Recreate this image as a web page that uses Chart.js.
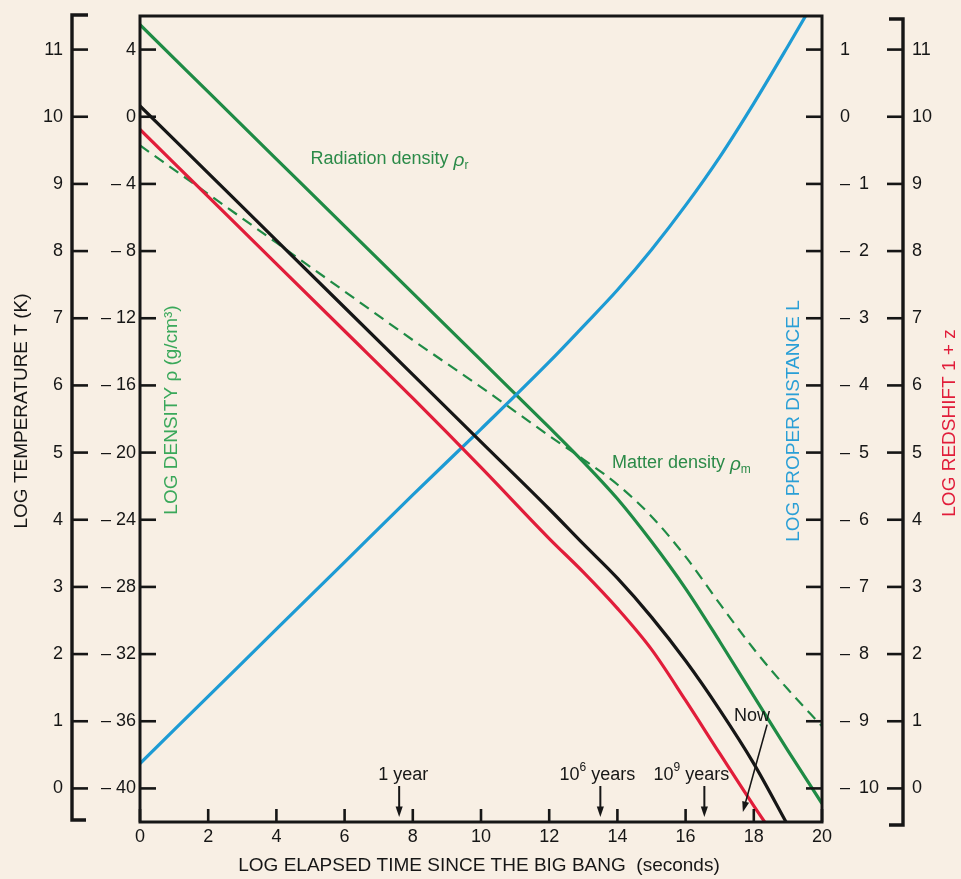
<!DOCTYPE html>
<html>
<head>
<meta charset="utf-8">
<script src="https://cdn.jsdelivr.net/npm/chart.js@4.4.1/dist/chart.umd.min.js"></script>
<style>
	body { margin: 0; background: #f8efe4; }
	#wrap { width: 961px; height: 879px; }
</style>
</head>
<body>
<div id="wrap"><canvas id="chart"></canvas></div>
<script>
// log10 of elapsed time since the big bang (seconds)
const logTime = [0, 2, 4, 6, 8, 10, 12, 13, 14, 15, 16, 17, 18, 19, 20];

// series, one value per logTime entry
const logTemperature = [10.16, 9.16, 8.16, 7.16, 6.16, 5.16, 4.16, 3.64, 3.13, 2.55, 1.9, 1.17, 0.37, -0.55, null];
const logRedshift = [9.81, 8.81, 7.81, 6.81, 5.81, 4.78, 3.72, 3.22, 2.68, 2.07, 1.31, 0.52, -0.26, -1.0, null];
const logDistance = [-9.63, -8.63, -7.63, -6.63, -5.63, -4.65, -3.65, -3.12, -2.58, -1.98, -1.32, -0.6, 0.2, 1.05, 1.92];
const logRadiationDensity = [5.48, 1.48, -2.52, -6.52, -10.5, -14.5, -18.5, -20.55, -22.75, -25.3, -28.1, -31.25, -34.5, -37.75, -40.9];
const logMatterDensity = [-1.71, -4.6, -7.5, -10.4, -13.3, -16.1, -19.0, -20.4, -21.9, -23.8, -26.2, -29.0, -31.7, -34.1, -36.3];

// tick labels of the five axes
const timeTicks = [0, 2, 4, 6, 8, 10, 12, 14, 16, 18, 20];
const temperatureTicks = [0, 1, 2, 3, 4, 5, 6, 7, 8, 9, 10, 11];
const densityTicks = [4, 0, -4, -8, -12, -16, -20, -24, -28, -32, -36, -40];
const distanceTicks = [1, 0, -1, -2, -3, -4, -5, -6, -7, -8, -9, -10];
const redshiftTicks = [0, 1, 2, 3, 4, 5, 6, 7, 8, 9, 10, 11];

// marked epochs along the time axis
const eventNames = [["1 year", "", ""], ["10", "6", " years"], ["10", "9", " years"]];
const eventLogTimes = [7.6, 13.5, 16.55];

const ink = "#161616";
const green = "#1f8b45";
const blue = "#1d9bd4";
const red = "#e11d3a";
const fontFamily = "'Liberation Sans', Arial, Helvetica, sans-serif";

function points(values) {
	return logTime
		.map((t, i) => ({ x: t, y: values[i] }))
		.filter(p => p.y !== null);
}

function minusLabel(value) {
	return value < 0 ? "\u2013 " + Math.abs(value) : String(value);
}

function wideMinusLabel(value) {
	return value < 0 ? "\u2013\u2002" + Math.abs(value) : String(value);
}

function setTicks(list) {
	return axis => {
		axis.ticks = list.map(v => ({ value: v }));
	};
}

function setWidth(w) {
	return axis => {
		axis.width = w;
		axis.paddingTop = 0;
		axis.paddingBottom = 0;
	};
}

function drawLine(ctx, x1, y1, x2, y2) {
	ctx.beginPath();
	ctx.moveTo(x1, y1);
	ctx.lineTo(x2, y2);
	ctx.stroke();
}

function drawArrow(ctx, x1, y1, x2, y2) {
	const angle = Math.atan2(y2 - y1, x2 - x1);
	const head = 11;
	const spread = 0.33;
	drawLine(ctx, x1, y1, x2 - Math.cos(angle) * 6, y2 - Math.sin(angle) * 6);
	ctx.beginPath();
	ctx.moveTo(x2, y2);
	ctx.lineTo(x2 - head * Math.cos(angle - spread), y2 - head * Math.sin(angle - spread));
	ctx.lineTo(x2 - head * Math.cos(angle + spread), y2 - head * Math.sin(angle + spread));
	ctx.closePath();
	ctx.fill();
}

function drawRotated(ctx, text, x, y, color) {
	ctx.save();
	ctx.translate(x, y);
	ctx.rotate(-Math.PI / 2);
	ctx.fillStyle = color;
	ctx.textAlign = "center";
	ctx.textBaseline = "middle";
	ctx.fillText(text, 0, 0);
	ctx.restore();
}

function drawRhoLabel(ctx, text, sub, x, y, color) {
	ctx.fillStyle = color;
	ctx.textAlign = "left";
	ctx.textBaseline = "middle";
	ctx.font = "18px " + fontFamily;
	ctx.fillText(text, x, y);
	let w = ctx.measureText(text).width;
	ctx.font = "italic 19px " + fontFamily;
	ctx.fillText("\u03c1", x + w, y + 2);
	w += ctx.measureText("\u03c1").width;
	ctx.font = "12px " + fontFamily;
	ctx.fillText(sub, x + w, y + 7);
}

const decorations = {
	id: "decorations",
	afterDraw(chart) {
		const ctx = chart.ctx;
		const area = chart.chartArea;
		const sx = chart.scales.x;
		const sd = chart.scales.yDensity;
		const st = chart.scales.yTemp;
		const sl = chart.scales.yDistance;
		const sr = chart.scales.yRedshift;
		ctx.save();
		ctx.strokeStyle = ink;
		ctx.fillStyle = ink;

		// plot frame
		ctx.lineWidth = 3;
		ctx.strokeRect(area.left, area.top, area.right - area.left, area.bottom - area.top);

		// inward tick marks
		ctx.lineWidth = 2.6;
		sx.ticks.forEach(t => {
			const px = sx.getPixelForValue(t.value);
			drawLine(ctx, px, area.bottom, px, area.bottom - 13);
		});
		sd.ticks.forEach(t => {
			const py = sd.getPixelForValue(t.value);
			drawLine(ctx, area.left, py, area.left + 16, py);
		});
		sl.ticks.forEach(t => {
			const py = sl.getPixelForValue(t.value);
			drawLine(ctx, area.right - 16, py, area.right, py);
		});

		// outer temperature axis with bracket ends
		const tx = st.right - 3;
		ctx.lineWidth = 3.4;
		ctx.beginPath();
		ctx.moveTo(tx + 16, area.top - 1);
		ctx.lineTo(tx, area.top - 1);
		ctx.lineTo(tx, area.bottom - 2);
		ctx.lineTo(tx + 14, area.bottom - 2);
		ctx.stroke();
		ctx.lineWidth = 2.6;
		st.ticks.forEach(t => {
			const py = st.getPixelForValue(t.value);
			drawLine(ctx, tx, py, tx + 16, py);
		});

		// outer redshift axis with bracket ends
		const rx = sr.left + 3;
		ctx.lineWidth = 3.4;
		ctx.beginPath();
		ctx.moveTo(rx - 14, area.top + 3);
		ctx.lineTo(rx, area.top + 3);
		ctx.lineTo(rx, area.bottom + 3);
		ctx.lineTo(rx - 14, area.bottom + 3);
		ctx.stroke();
		ctx.lineWidth = 2.6;
		sr.ticks.forEach(t => {
			const py = sr.getPixelForValue(t.value);
			drawLine(ctx, rx - 16, py, rx, py);
		});

		// axis titles
		ctx.font = "19px " + fontFamily;
		const midY = (area.top + area.bottom) / 2;
		drawRotated(ctx, "LOG TEMPERATURE T (K)", st.left + 22, midY - 8, ink);
		drawRotated(ctx, "LOG DENSITY \u03c1 (g/cm\u00b3)", area.left + 32, midY - 9, "#3aa85a");
		drawRotated(ctx, "LOG PROPER DISTANCE L", area.right - 28, midY + 2, "#2a9fd6");
		drawRotated(ctx, "LOG REDSHIFT 1 + z", sr.right - 11, midY + 4, red);
		ctx.fillStyle = ink;
		ctx.textAlign = "center";
		ctx.textBaseline = "middle";
		ctx.fillText("LOG ELAPSED TIME SINCE THE BIG BANG  (seconds)", (area.left + area.right) / 2 - 2, area.bottom + 44);

		// curve labels
		drawRhoLabel(ctx, "Radiation density ", "r", sx.getPixelForValue(5.0), sd.getPixelForValue(-2.5), "#2b8a48");
		drawRhoLabel(ctx, "Matter density ", "m", sx.getPixelForValue(13.84), sd.getPixelForValue(-20.6), "#2b8a48");

		// epoch arrows along the time axis
		ctx.fillStyle = ink;
		ctx.strokeStyle = ink;
		ctx.lineWidth = 2;
		const labelShift = [4, -3, -13];
		eventLogTimes.forEach((t, i) => {
			const px = sx.getPixelForValue(t);
			drawArrow(ctx, px, area.bottom - 36, px, area.bottom - 5);
			const parts = eventNames[i];
			ctx.font = "18px " + fontFamily;
			const w1 = ctx.measureText(parts[0]).width;
			const w3 = ctx.measureText(parts[2]).width;
			ctx.font = "12px " + fontFamily;
			const w2 = ctx.measureText(parts[1]).width;
			let x = px + labelShift[i] - (w1 + w2 + w3) / 2;
			const y = area.bottom - 47;
			ctx.textAlign = "left";
			ctx.textBaseline = "middle";
			ctx.font = "18px " + fontFamily;
			ctx.fillText(parts[0], x, y);
			x += w1;
			ctx.font = "12px " + fontFamily;
			ctx.fillText(parts[1], x, y - 7);
			x += w2;
			ctx.font = "18px " + fontFamily;
			ctx.fillText(parts[2], x, y);
		});

		// "Now"
		ctx.font = "18px " + fontFamily;
		ctx.textAlign = "center";
		ctx.fillText("Now", sx.getPixelForValue(17.95), sd.getPixelForValue(-35.7));
		ctx.lineWidth = 1.6;
		drawArrow(ctx, sx.getPixelForValue(18.39), sd.getPixelForValue(-36.2),
			sx.getPixelForValue(17.68), sd.getPixelForValue(-41.4));
		ctx.restore();
	}
};

function drawChart() {
	Chart.defaults.font.family = fontFamily;
	Chart.defaults.font.size = 18;
	Chart.defaults.color = ink;
	const tickFont = { size: 18 };
	const datasets = [
		{
			label: "Temperature",
			data: points(logTemperature),
			yAxisID: "yTemp",
			borderColor: ink,
			borderWidth: 3.2
		},
		{
			label: "Redshift",
			data: points(logRedshift),
			yAxisID: "yRedshift",
			borderColor: red,
			borderWidth: 3.2
		},
		{
			label: "Proper distance",
			data: points(logDistance),
			yAxisID: "yDistance",
			borderColor: blue,
			borderWidth: 3.2
		},
		{
			label: "Radiation density",
			data: points(logRadiationDensity),
			yAxisID: "yDensity",
			borderColor: green,
			borderWidth: 3.2
		},
		{
			label: "Matter density",
			data: points(logMatterDensity),
			yAxisID: "yDensity",
			borderColor: green,
			borderWidth: 2.2,
			borderDash: [11, 7]
		}
	];
	datasets.forEach(d => {
		d.pointRadius = 0;
		d.fill = false;
		d.cubicInterpolationMode = "monotone";
		d.clip = 0;
	});
	const hidden = { display: false, drawTicks: false };
	const options = {
		type: "line",
		data: {
			datasets: datasets
		},
		options: {
			responsive: true,
			maintainAspectRatio: false,
			animation: false,
			layout: {
				padding: { top: 16, left: 0, right: 0, bottom: 0 }
			},
			plugins: {
				legend: { display: false },
				tooltip: { enabled: false }
			},
			scales: {
				x: {
					type: "linear",
					min: 0,
					max: 20,
					afterBuildTicks: setTicks(timeTicks),
					afterFit: axis => { axis.height = 57; },
					grid: hidden,
					border: { display: false },
					ticks: { font: tickFont, padding: 4, autoSkip: false, maxRotation: 0 }
				},
				yDensity: {
					type: "linear",
					position: "left",
					weight: 0,
					min: -42,
					max: 6,
					afterBuildTicks: setTicks(densityTicks),
					afterFit: setWidth(65),
					grid: hidden,
					border: { display: false },
					ticks: { font: tickFont, padding: 4, autoSkip: false, callback: minusLabel }
				},
				yTemp: {
					type: "linear",
					position: "left",
					weight: 1,
					min: -0.5,
					max: 11.5,
					afterBuildTicks: setTicks(temperatureTicks),
					afterFit: setWidth(75),
					grid: hidden,
					border: { display: false },
					ticks: { font: tickFont, padding: 12, autoSkip: false }
				},
				yDistance: {
					type: "linear",
					position: "right",
					weight: 0,
					min: -10.5,
					max: 1.5,
					afterBuildTicks: setTicks(distanceTicks),
					afterFit: setWidth(78),
					grid: hidden,
					border: { display: false },
					ticks: { font: tickFont, padding: 18, autoSkip: false, callback: wideMinusLabel }
				},
				yRedshift: {
					type: "linear",
					position: "right",
					weight: 1,
					min: -0.5,
					max: 11.5,
					afterBuildTicks: setTicks(redshiftTicks),
					afterFit: setWidth(61),
					grid: hidden,
					border: { display: false },
					ticks: { font: tickFont, padding: 12, autoSkip: false }
				}
			}
		},
		plugins: [decorations]
	};
	const context = document.getElementById("chart").getContext("2d");
	new Chart(context, options);
}

document.addEventListener("DOMContentLoaded", _ => {
	drawChart();
});
</script>
</body>
</html>
